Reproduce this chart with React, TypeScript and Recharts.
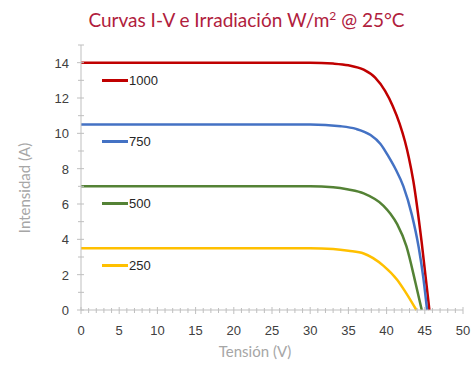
import { LineChart, Line, XAxis, YAxis } from 'recharts';

const V1000 = [0, 30, 33, 35, 37, 38.5, 39.8, 40.8, 41.7, 42.4, 42.9, 43.5, 44.6, 45.6];
const I1000 = [14, 14, 13.95, 13.85, 13.6, 13.15, 12.4, 11.55, 10.55, 9.55, 8.65, 7.3, 3.8, 0];
const V750 = [0, 30, 34, 36, 37.9, 39.2, 40.3, 41.2, 42.2, 43.3, 44.2, 44.8, 45.3];
const I750 = [10.5, 10.5, 10.4, 10.25, 9.9, 9.4, 8.65, 7.95, 7.0, 5.4, 3.55, 1.85, 0];
const V500 = [0, 30, 33, 35, 37, 39.6, 40.5, 41.4, 42.6, 43.8, 44.6];
const I500 = [7, 7, 6.95, 6.82, 6.6, 5.9, 5.45, 4.85, 3.6, 1.5, 0];
const V250 = [0, 30, 33, 35, 37, 39.6, 41.4, 42.5, 43.9];
const I250 = [3.5, 3.5, 3.45, 3.35, 3.2, 2.5, 1.7, 1.0, 0];

const series = [
  { name: '1000', v: V1000, i: I1000, color: '#C00000' },
  { name: '750', v: V750, i: I750, color: '#4472C4' },
  { name: '500', v: V500, i: I500, color: '#548235' },
  { name: '250', v: V250, i: I250, color: '#FFC000' },
];

const xTicks = Array.from({ length: 51 }, (_, k) => k);
const yTicks = Array.from({ length: 16 }, (_, k) => k);

const axisColor = '#BFBFBF';
const tickFont = '"Liberation Sans", Arial, sans-serif';
const titleFont = 'Lato, "Open Sans", sans-serif';

function XTick(props: any) {
  const { x, y, payload } = props;
  const major = payload.value % 5 === 0;
  return (
    <g>
      <line x1={x} x2={x} y1={y - (major ? 3 : 2)} y2={y + (major ? 4 : 3)} stroke={axisColor} />
      {major && (
        <text x={x} y={y + 25} textAnchor="middle" fontSize={13} fill="#404040" fontFamily={tickFont}>
          {payload.value}
        </text>
      )}
    </g>
  );
}

function YTick(props: any) {
  const { x, y, payload } = props;
  const major = payload.value % 2 === 0;
  return (
    <g>
      <line x1={x - (major ? 4 : 3)} x2={x + 3} y1={y} y2={y} stroke={axisColor} />
      {major && (
        <text x={x - 12} y={y + 5} textAnchor="end" fontSize={13} fill="#404040" fontFamily={tickFont}>
          {payload.value}
        </text>
      )}
    </g>
  );
}

// legend sits inside the plot, left side
function InlineLegend() {
  return (
    <>
      {series.map((s, k) => (
        <div
          key={s.name}
          style={{
            position: 'absolute',
            left: 102,
            top: [80, 141.7, 203.3, 265][k] - 9,
            display: 'flex',
            alignItems: 'center',
            height: 18,
          }}
        >
          <div style={{ width: 26, height: 3, background: s.color }} />
          <span style={{ fontFamily: tickFont, fontSize: 13, color: '#262626', marginLeft: 1 }}>{s.name}</span>
        </div>
      ))}
    </>
  );
}

export default function App() {
  return (
    <div style={{ position: 'absolute', left: 0, top: 0, width: 472, height: 365, background: '#fff' }}>
      <div
        style={{
          position: 'absolute',
          left: 0,
          top: 8,
          width: 493,
          textAlign: 'center',
          fontFamily: titleFont,
          fontSize: 19,
          color: '#B0203C',
        }}
      >
        Curvas I-V e Irradiación W/m<sup style={{ fontSize: 12 }}>2</sup> @ 25°C
      </div>
      <LineChart width={472} height={365} margin={{ top: 45, right: 9, left: 0, bottom: 0 }}>
        <XAxis
          type="number"
          dataKey="v"
          domain={[0, 50]}
          ticks={xTicks}
          interval={0}
          tick={<XTick />}
          tickLine={false}
          tickSize={0}
          tickMargin={0}
          height={55}
          stroke={axisColor}
          allowDuplicatedCategory={false}
          label={{
            content: () => (
              <text x={255} y={357} textAnchor="middle" fontSize={15} fill="#A6A6A6" fontFamily={titleFont}>
                Tensión (V)
              </text>
            ),
          }}
        />
        <YAxis
          type="number"
          domain={[0, 15]}
          ticks={yTicks}
          interval={0}
          tick={<YTick />}
          tickLine={false}
          tickSize={0}
          tickMargin={0}
          width={81}
          stroke={axisColor}
          label={{
            content: () => (
              <text
                x={30}
                y={188}
                transform="rotate(-90 30 188)"
                textAnchor="middle"
                fontSize={15}
                fill="#A6A6A6"
                fontFamily={titleFont}
              >
                Intensidad (A)
              </text>
            ),
          }}
        />
        {series.map((s) => (
          <Line
            key={s.name}
            name={s.name}
            data={s.v.map((v, k) => ({ v, i: s.i[k] }))}
            dataKey="i"
            type="monotone"
            stroke={s.color}
            strokeWidth={2.5}
            dot={false}
            isAnimationActive={false}
          />
        ))}
      </LineChart>
      <InlineLegend />
    </div>
  );
}
